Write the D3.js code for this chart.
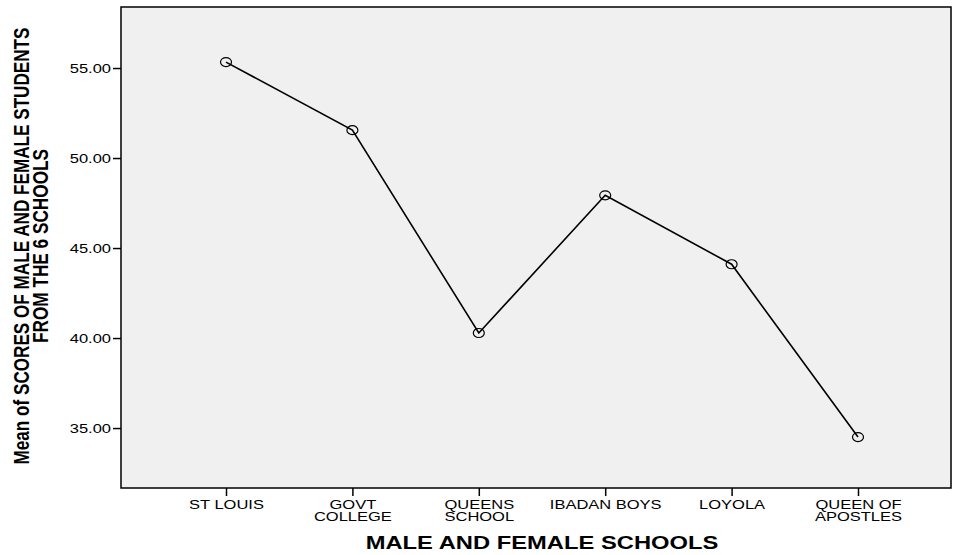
<!DOCTYPE html>
<html>
<head>
<meta charset="utf-8">
<script src="https://cdn.jsdelivr.net/npm/d3@7"></script>
<style>
  body { margin: 0; background: #fff; }
  svg { display: block; }
  text { font-family: Arial, "Liberation Sans", sans-serif; }
</style>
</head>
<body>
<svg id="chart" width="953" height="555"></svg>
<script>
// schools on the x axis (label lines)
var schools = ["ST LOUIS", "GOVT COLLEGE", "QUEENS SCHOOL", "IBADAN BOYS", "LOYOLA", "QUEEN OF APOSTLES"];
var schoolLines = [["ST LOUIS"], ["GOVT", "COLLEGE"], ["QUEENS", "SCHOOL"], ["IBADAN BOYS"], ["LOYOLA"], ["QUEEN OF", "APOSTLES"]];
// mean scores
var meanScores = [55.33, 51.55, 40.28, 47.93, 44.10, 34.50];
var yTicks = [35, 40, 45, 50, 55];
var yDomain = [31.67, 58.39];

var svg = d3.select("#chart");
var box = { left: 121, right: 951, top: 7, bottom: 488 };
var stretch = 1.27; // the original picture is widened horizontally

var x = d3.scalePoint().domain(schools).range([226, 858]);
var y = d3.scaleLinear().domain(yDomain).range([box.bottom, box.top]);

// plot background + frame
svg.append("rect")
    .attr("x", box.left).attr("y", box.top)
    .attr("width", box.right - box.left).attr("height", box.bottom - box.top)
    .attr("fill", "#f0f0f0").attr("stroke", "#000").attr("stroke-width", 1.5);

// y axis
var yAxis = svg.append("g")
    .attr("transform", "translate(" + box.left + ",0)")
    .call(d3.axisLeft(y).tickValues(yTicks).tickSize(8).tickFormat(d3.format(".2f")));
yAxis.select(".domain").remove();
yAxis.selectAll(".tick line").attr("stroke", "#000").attr("stroke-width", 1.5);
yAxis.selectAll(".tick text")
    .attr("font-size", 13).attr("fill", "#000")
    .attr("x", -10 / stretch)
    .attr("transform", "scale(" + stretch + ",1)");

// x axis
var xAxis = svg.append("g")
    .attr("transform", "translate(0," + box.bottom + ")")
    .call(d3.axisBottom(x).tickSize(8).tickFormat(""));
xAxis.select(".domain").remove();
xAxis.selectAll(".tick line").attr("stroke", "#000").attr("stroke-width", 1.5);
xAxis.selectAll(".tick").each(function(d, i) {
  var t = d3.select(this).append("text")
      .attr("fill", "#000").attr("font-size", 13)
      .attr("text-anchor", "middle")
      .attr("transform", "scale(" + stretch + ",1)")
      .attr("y", 21);
  schoolLines[i].forEach(function(line, j) {
    t.append("tspan").attr("x", 0).attr("dy", j === 0 ? 0 : 12.5).text(line);
  });
});

// line + markers
var pts = schools.map(function(s, i) { return { s: s, v: meanScores[i] }; });
svg.append("path")
    .datum(pts)
    .attr("fill", "none").attr("stroke", "#000").attr("stroke-width", 1.6)
    .attr("d", d3.line().x(function(d) { return x(d.s); }).y(function(d) { return y(d.v); }));

svg.selectAll("ellipse.pt").data(pts).enter().append("ellipse")
    .attr("class", "pt")
    .attr("cx", function(d) { return x(d.s); })
    .attr("cy", function(d) { return y(d.v); })
    .attr("rx", 5.5).attr("ry", 4.5)
    .attr("fill", "none").attr("stroke", "#000").attr("stroke-width", 1.2);

// axis titles
svg.append("text")
    .attr("transform", "translate(542,549) scale(1.32,1)")
    .attr("text-anchor", "middle")
    .attr("font-weight", "bold").attr("font-size", 18)
    .attr("fill", "#000")
    .text("MALE AND FEMALE SCHOOLS");

var yTitle = svg.append("text")
    .attr("transform", "translate(0,246) scale(1.2,1) rotate(-90)")
    .attr("text-anchor", "middle")
    .attr("font-weight", "bold").attr("font-size", 18)
    .attr("fill", "#000");
yTitle.append("tspan").attr("x", 0).attr("y", 29 / 1.2)
    .attr("textLength", 437).attr("lengthAdjust", "spacingAndGlyphs")
    .text("Mean of SCORES OF MALE AND FEMALE STUDENTS");
yTitle.append("tspan").attr("x", 0).attr("y", 48 / 1.2)
    .attr("textLength", 194).attr("lengthAdjust", "spacingAndGlyphs")
    .text("FROM THE 6 SCHOOLS");
</script>
</body>
</html>
